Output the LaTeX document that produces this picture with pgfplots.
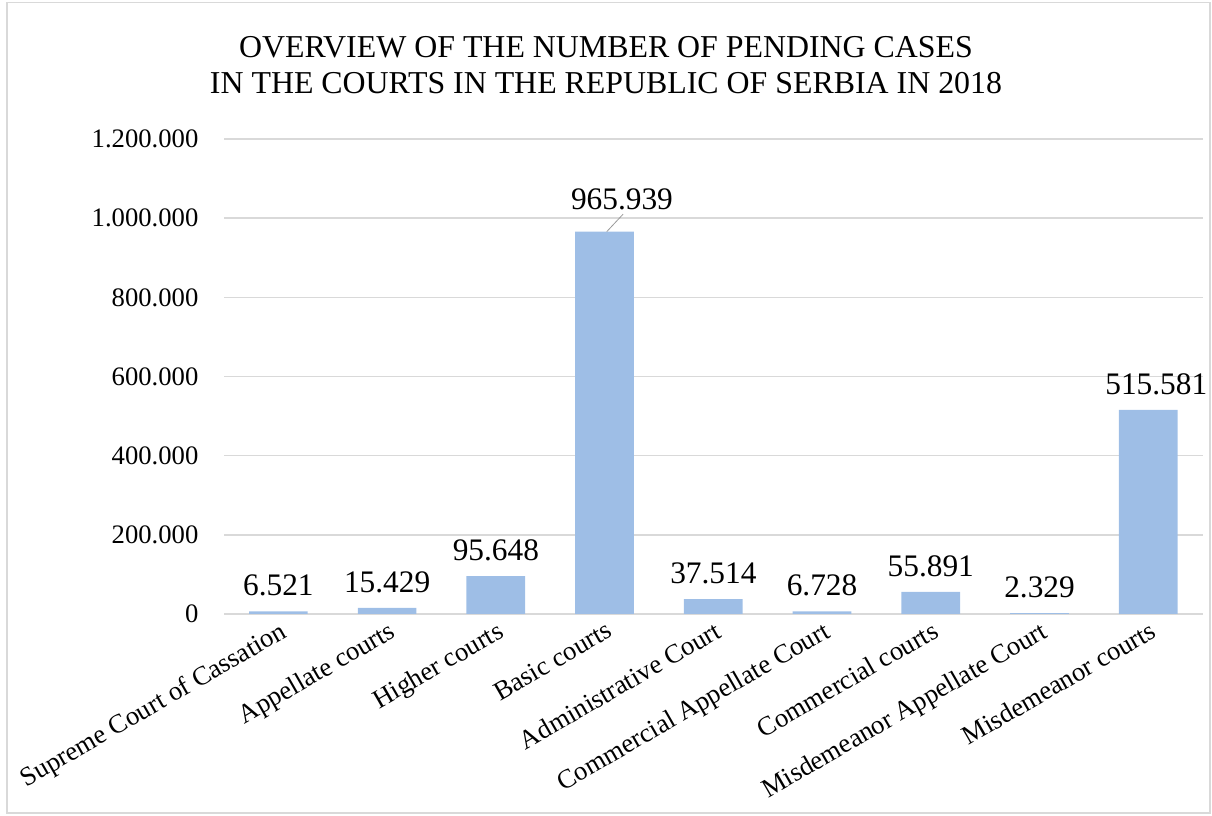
\documentclass[border=0pt]{standalone}
\usepackage{fontspec}
\setmainfont{Liberation Serif}
\usepackage{pgfplots}
\usepackage{pgfplotstable}
\pgfplotsset{compat=1.18}
\definecolor{barblue}{RGB}{158,190,230}
\definecolor{gridgray}{RGB}{217,217,217}
\pgfplotstableread{
x y dx dy
0 6521 0 0
1 15429 0 0
2 95648 0 0
3 965939 13 5
4 37514 0 0
5 6728 0 0
6 55891 0 0
7 2329 0 0
8 515581 6 0
}\data
\begin{document}
\begin{tikzpicture}
\useasboundingbox (0,0) rectangle (909pt,612pt);
\draw[gridgray, line width=1pt] (5.25pt,2.25pt) rectangle (907.5pt,610pt);
\node[align=center, font=\fontsize{23.9}{27}\selectfont] at (454.5pt,563pt)
  {OVERVIEW OF THE NUMBER OF PENDING CASES\\IN THE COURTS IN THE REPUBLIC OF SERBIA IN 2018};
\begin{axis}[
  at={(168pt,151.5pt)}, anchor=south west,
  scale only axis, width=734pt, height=356.25pt,
  xmin=-0.5, xmax=8.5, ymin=0, ymax=1200000,
  ytick={0,200000,400000,600000,800000,1000000,1200000},
  scaled y ticks=false,
  xtick={0,1,2,3,4,5,6,7,8},
  xticklabels={Supreme Court of Cassation,Appellate courts,Higher courts,Basic courts,Administrative Court,Commercial Appellate Court,Commercial courts,Misdemeanor Appellate Court,Misdemeanor courts},
  x tick label style={rotate=30, anchor=north east, font=\fontsize{20}{23}\selectfont, inner sep=2pt, yshift=-2pt},
  y tick label style={font=\fontsize{20}{24}\selectfont, inner sep=0pt, xshift=-19pt},
  yticklabel={\pgfmathprintnumber[fixed, precision=0, 1000 sep={.}, assume math mode=true]{\tick}},
  axis line style={draw=none},
  major tick length=0pt,
  ymajorgrids, grid style={gridgray, line width=1.1pt},
  clip=false,
]
\addplot[ybar, bar width=0.54, fill=barblue, draw=none,
  visualization depends on={\thisrow{dx} \as \dx},
  visualization depends on={\thisrow{dy} \as \dy},
  nodes near coords={\pgfmathprintnumber[fixed, precision=0, 1000 sep={.}, assume math mode=true]{\pgfplotspointmeta}},
  every node near coord/.append style={font=\fontsize{23.5}{27}\selectfont, xshift=\dx pt, yshift=\dy pt+8pt, text=black},
] table[x=x, y=y] {\data};
\draw[gray!80, line width=0.6pt] (axis cs:3.02,966000) -- (axis cs:3.17,1010000);
\end{axis}
\end{tikzpicture}
\end{document}
